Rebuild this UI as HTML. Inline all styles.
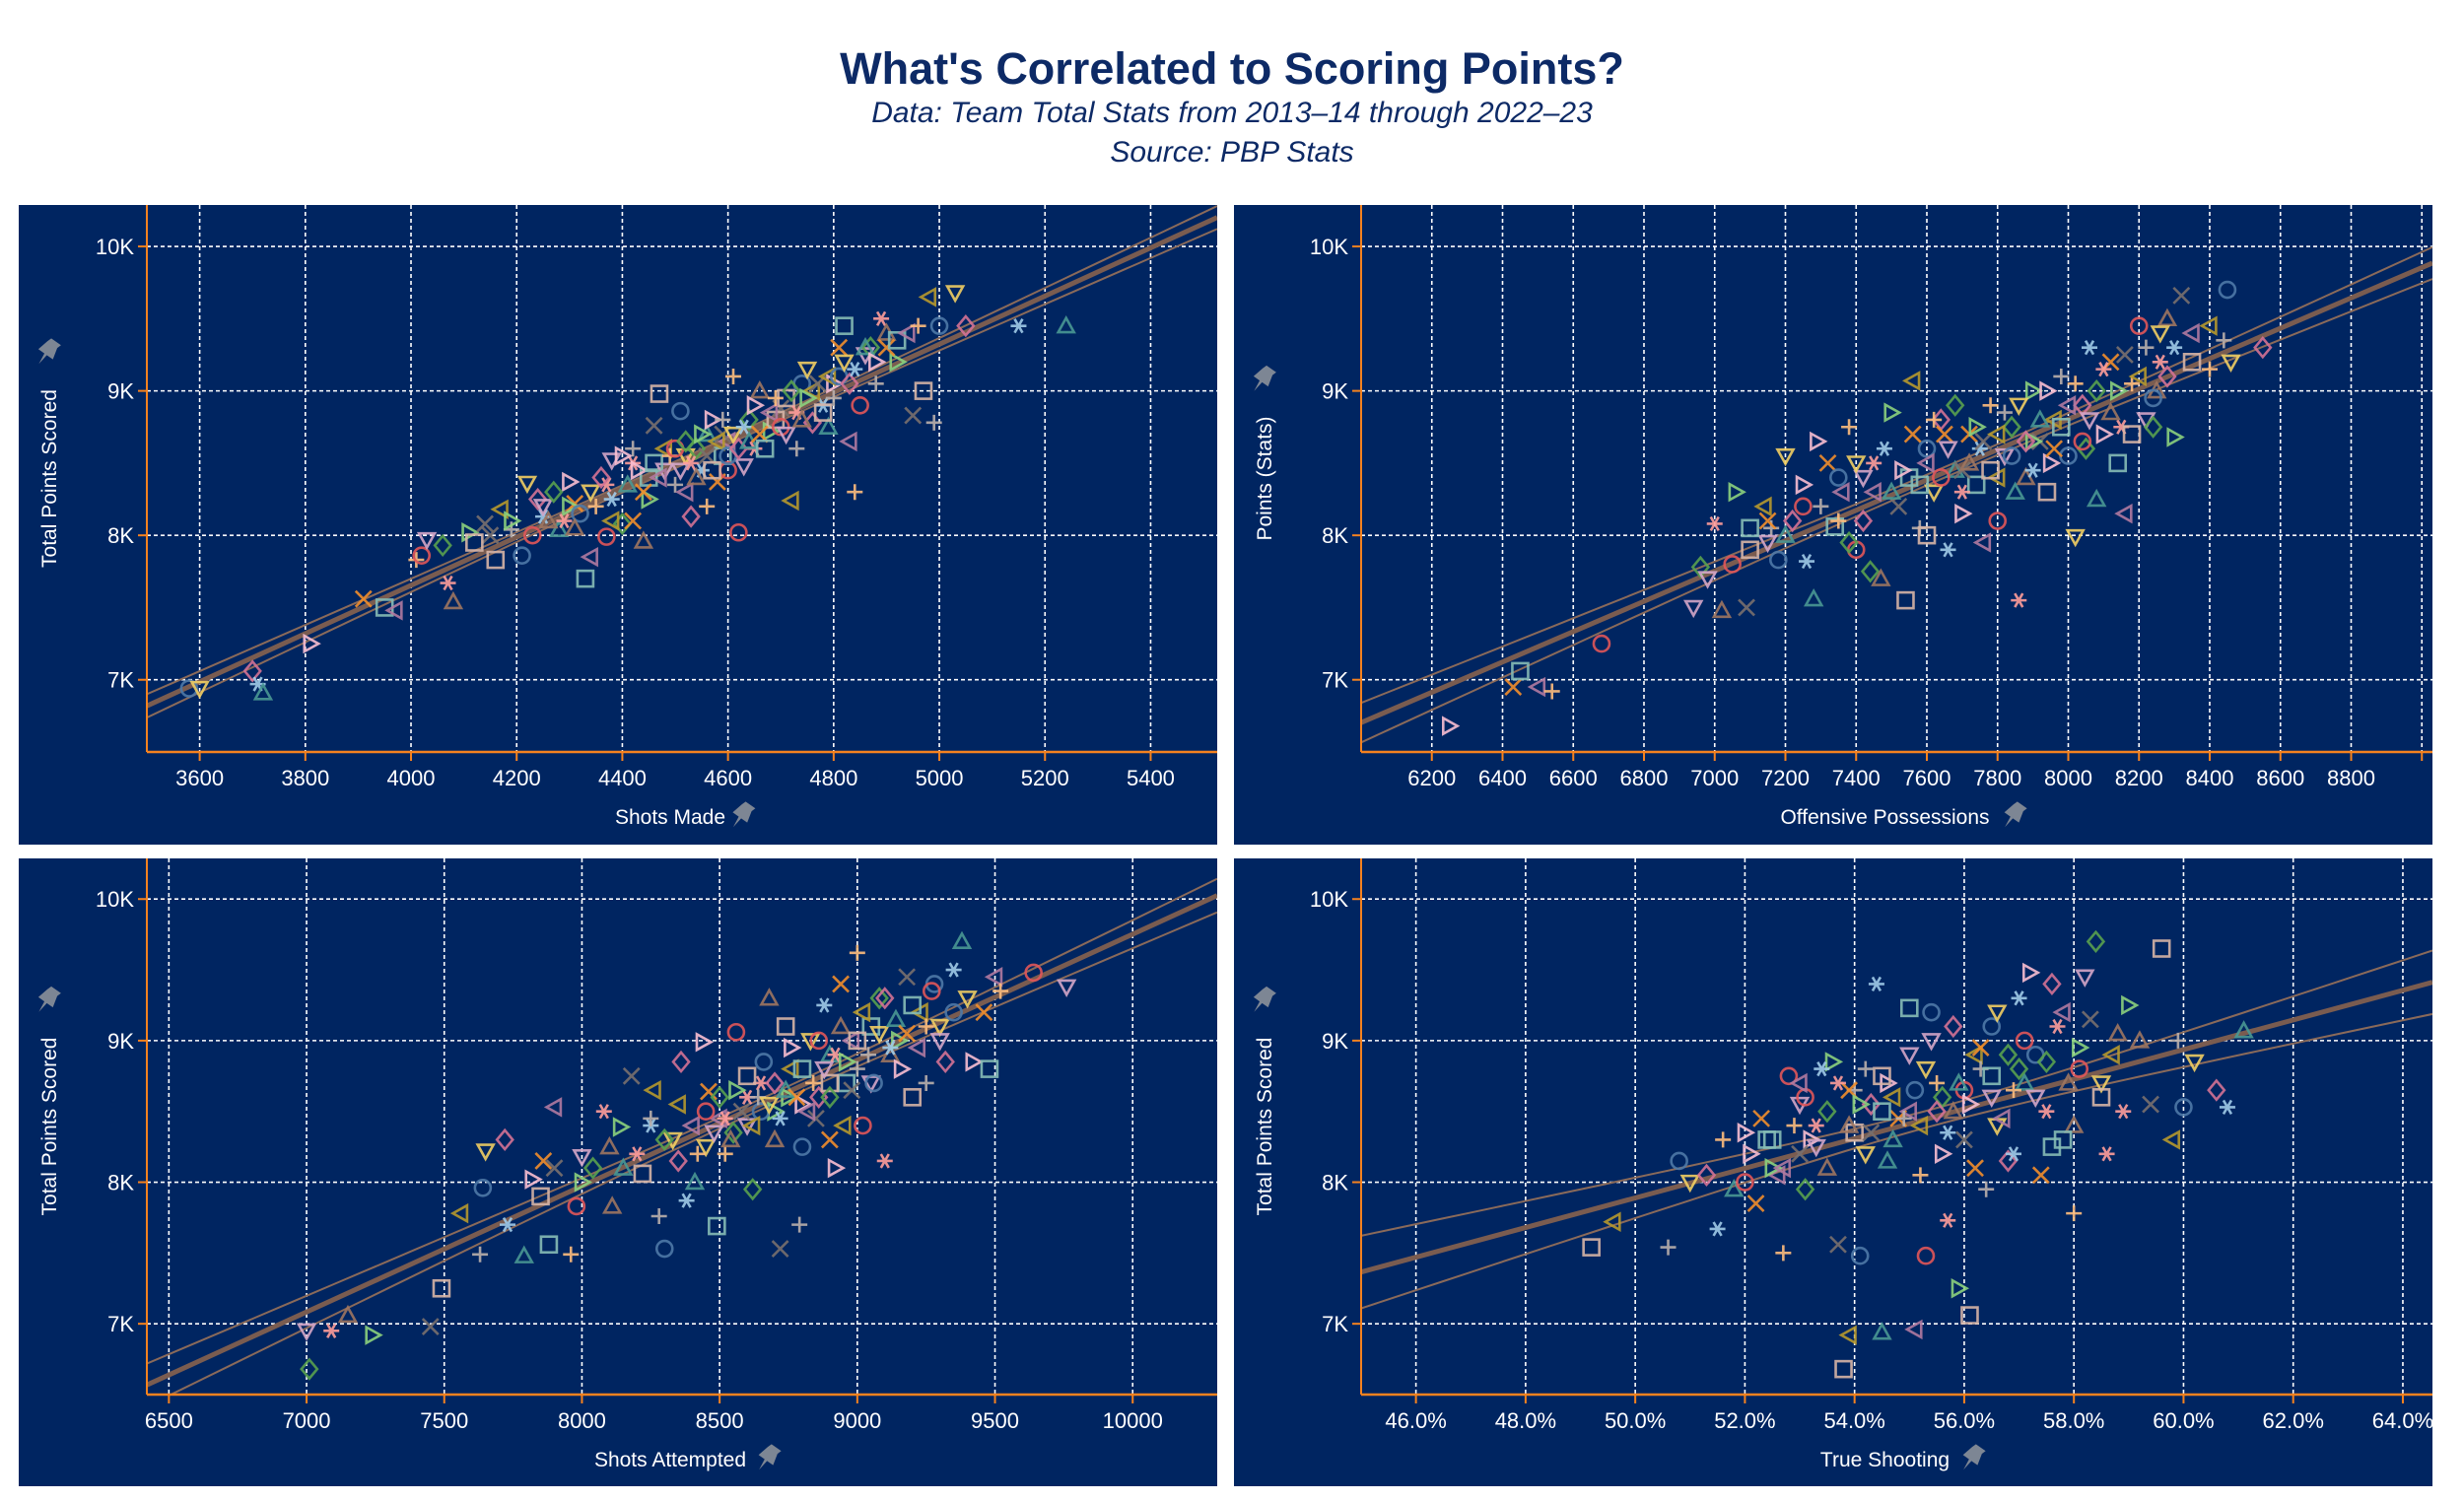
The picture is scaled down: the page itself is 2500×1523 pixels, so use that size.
<!DOCTYPE html>
<html><head><meta charset="utf-8">
<style>
html,body{margin:0;padding:0;background:#fff;width:2500px;height:1523px;overflow:hidden;font-family:"Liberation Sans",sans-serif;}
.t{position:absolute;left:0;width:2500px;text-align:center;color:#0d2a66;}
</style></head><body>
<div class="t" style="top:44px;font-size:45px;font-weight:bold;">What's Correlated to Scoring Points?</div>
<div class="t" style="top:98px;font-size:30px;font-style:italic;">Data: Team Total Stats from 2013–14 through 2022–23</div>
<div class="t" style="top:138px;font-size:30px;font-style:italic;">Source: PBP Stats</div>
<svg id="svg" width="2500" height="1523" style="position:absolute;left:0;top:0" xmlns="http://www.w3.org/2000/svg"></svg>
<script>
// ---- data ----
const p1x=[3580,3600,3700,3710,3720,3810,3910,3950,3970,4010,4020,4030,4060,4070,4080,4110,4140,4160,4170,4190,4210,4220,4240,4250,4280,4300,4310,4330,4340,4350,4370,4380,4400,4420,4440,4450,4460,4470,4480,4500,4510,4520,4530,4550,4560,4570,4580,4590,4600,4610,4620,4630,4640,4650,4660,4680,4700,4710,4720,4730,4740,4750,4760,4780,4790,4800,4810,4820,4830,4840,4850,4860,4870,4890,4900,4920,4950,4970,4980,4990,5000,5030,5050,5150,5240,4400,4420,4450,4520,4560,4600,4480,4540,4370,4260,4300,4590,4690,4760,4880,
4320,4340,4360,4380,4410,4430,4440,4460,4470,4490,4500,4510,4520,4530,4540,4550,4560,4570,4580,4590,4600,4610,4620,4630,4640,4650,4660,4670,4680,4690,4700,4710,4720,4730,4740,4750,4770,4780,4790,4800,4810,4820,4830,4840,4860,4880,4900,4920,4940,4960,4230,4250,4270,4290,4310,4190,4150,4120,4380,4420];
const p1y=[6940,6940,7060,6970,6910,7250,7560,7500,7480,7830,7860,7970,7930,7670,7540,8020,8080,7830,8180,8040,7860,8360,8250,8130,8040,8370,8220,7700,7850,8200,7990,8520,8080,8500,7960,8250,8760,8980,8600,8350,8860,8550,8130,8450,8700,8800,8370,8550,8650,9100,8020,8480,8800,8600,9000,8720,8880,8950,8240,8600,9050,9150,8780,8900,8750,9050,9300,9450,8650,8300,8900,9250,9300,9500,9400,9200,8830,9000,9650,8780,9450,9680,9450,9450,9450,8550,8100,8400,8300,8200,8450,8450,8600,8350,8100,8200,8700,8800,9000,9050,
8150,8300,8400,8250,8350,8450,8300,8500,8400,8550,8600,8450,8650,8500,8400,8700,8550,8450,8650,8800,8550,8700,8600,8750,8650,8900,8700,8600,8850,8950,8750,8700,9000,8850,8800,8950,9050,8850,9100,8950,9100,9200,9050,9150,9300,9200,9300,9350,9400,9450,8000,8200,8300,8100,8050,8100,8000,7950,8100,8600];
const p2x=[6250,6430,6450,6500,6540,6680,6940,6960,7000,7020,7060,7090,7100,7140,7160,7180,7200,7220,7260,7280,7290,7320,7340,7360,7380,7400,7420,7440,7450,7470,7500,7520,7540,7560,7580,7600,7620,7640,7660,7680,7700,7720,7740,7760,7780,7800,7820,7840,7860,7880,7900,7920,7940,7960,7980,8000,8020,8040,8060,8080,8100,8120,8140,8160,8180,8200,8220,8240,8260,8280,8300,8320,8350,8400,8440,8450,8460,8550,7750,7850,7950,7650,7550,7450,7350,7250,7150,8050,8150,8250,7900,7700,7600,7800,
7300,7350,7400,7420,7480,7500,7530,7560,7580,7600,7620,7640,7660,7680,7700,7720,7740,7760,7780,7800,7820,7840,7860,7880,7900,7920,7940,7960,7980,8000,8020,8040,8060,8080,8100,8120,8140,8160,8180,8200,8220,8240,8260,8280,8300,7200,7250,7150,7100,8350,8400,7050,6980,7380];
const p2y=[6680,6950,7060,6950,6920,7250,7500,7780,8080,7480,8300,7500,7900,8200,8050,7830,8550,8100,7820,7560,8650,8500,8060,8300,8750,7900,8400,7750,8500,7700,8850,8200,7550,9070,8050,8600,8300,8800,7900,8450,8150,8700,8350,7950,8900,8100,8550,8750,7550,8400,9000,8650,8300,8800,9100,8550,7990,8900,9300,8250,8700,9200,8500,8150,9050,9450,8800,8750,9200,9500,8680,9660,9200,9450,9350,9700,9200,9300,8600,8300,8500,8700,8400,8300,8100,8200,7950,8600,8750,9000,8650,8450,8000,8400,
8200,8400,8500,8100,8600,8300,8450,8700,8350,8500,8800,8400,8600,8900,8300,8500,8750,8650,8450,8700,8850,8550,8900,8650,8450,8800,9000,8600,8750,8900,9050,8650,8800,9000,9150,8850,9000,9250,8700,9100,9300,8950,9400,9100,9300,8000,8350,8100,8050,9400,9150,7800,7700,7950];
const p3x=[7000,7010,7090,7150,7240,7450,7490,7560,7630,7640,7650,7720,7730,7790,7820,7860,7880,7900,7960,7980,8000,8040,8080,8110,8140,8180,8220,8260,8280,8300,8330,8360,8380,8410,8440,8460,8490,8500,8520,8560,8600,8620,8650,8680,8700,8720,8740,8760,8790,8800,8830,8860,8880,8900,8920,8940,8960,8980,9000,9020,9050,9080,9100,9120,9150,9180,9200,9230,9250,9280,9300,9320,9350,9380,9420,9460,9480,9500,9520,9640,9760,8550,8600,8700,8750,8850,8900,8950,9000,8650,8450,8350,8250,8150,8800,8900,9050,
8400,8420,8450,8480,8500,8520,8540,8560,8580,8600,8620,8640,8660,8680,8700,8720,8740,8760,8780,8800,8820,8840,8860,8880,8900,8920,8940,8960,8980,9000,9020,9040,9060,9080,9100,9120,9140,9160,9180,9200,9220,9250,9270,9300,8300,8200,8100,8000,7900,7850,8350,8250,9350,9400];
const p3y=[6950,6680,6950,7060,6920,6980,7250,7780,7490,7960,8220,8300,7700,7480,8020,8150,7560,8530,7490,7830,8180,8100,8500,7830,8390,8750,8060,8650,7760,7530,8300,8850,7870,8000,8990,8640,7690,8450,8200,9060,8400,7950,8700,9300,8500,7530,9100,8800,7700,8250,9000,8600,9250,8900,8100,9400,8700,9000,9620,8400,8700,9300,8150,8900,9000,9450,8600,9200,8700,9400,9100,8850,9500,9700,8850,9200,8800,9450,9350,9480,9380,8350,8600,8300,8600,8450,8700,8400,8800,8500,8250,8150,8400,8100,8550,8300,9100,
8400,8200,8500,8350,8600,8450,8300,8650,8500,8750,8400,8600,8850,8550,8700,8450,8650,8950,8600,8800,8500,8700,9000,8800,8600,8900,9100,8850,8650,9000,9200,8900,8700,9050,9300,8950,9150,8800,9050,9250,8950,9100,9350,9000,8300,8200,8250,8000,8100,7900,8550,8450,9200,9300];
const p4x=[49.2,49.6,50.6,50.8,51.0,51.3,51.5,51.8,52.0,52.2,52.4,52.6,52.7,52.8,53.0,53.1,53.3,53.5,53.6,53.7,53.8,53.9,54.0,54.1,54.2,54.3,54.4,54.5,54.6,54.8,55.0,55.1,55.2,55.3,55.4,55.6,55.7,55.8,55.9,56.0,56.1,56.2,56.4,56.5,56.6,56.8,57.0,57.1,57.2,57.4,57.6,57.8,58.0,58.1,58.2,58.4,58.6,58.8,59.0,59.4,59.6,59.8,59.9,60.0,60.2,60.6,60.8,61.1,53.2,53.9,54.5,55.0,55.5,56.0,56.5,57.0,57.5,58.0,52.5,53.0,54.0,55.2,56.3,57.3,58.5,55.8,56.9,54.7,
52.1,52.3,52.5,52.7,52.9,53.1,53.3,53.5,53.7,53.9,54.1,54.3,54.5,54.7,54.9,55.1,55.3,55.5,55.7,55.9,56.1,56.3,56.5,56.7,56.9,57.1,57.3,57.5,57.7,57.9,58.1,58.3,58.5,58.7,54.2,55.4,56.6,57.6,53.4,54.6,55.6,56.2,57.8,53.0,51.6,52.0,55.0,56.8,58.9,59.2];
const p4y=[7540,7720,7540,8150,8000,8050,7670,7950,8350,7850,8300,8050,7500,8750,8550,7950,8400,8100,8850,7560,6680,6920,8650,7480,8200,8550,9400,6940,8700,8450,9230,6960,8050,7480,9000,8600,7730,8500,7250,8300,7060,8900,7950,9100,8400,8150,9300,8700,9480,8050,8250,9200,7780,8800,9450,9700,8200,9050,9250,8550,9650,8300,9000,8530,8850,8650,8530,9070,8300,8650,8500,8500,8700,8650,8600,8800,8500,8400,8100,8200,8350,8400,8800,8900,8700,9100,8200,8300,
8200,8450,8300,8100,8400,8600,8250,8500,8700,8400,8550,8350,8750,8600,8450,8650,8800,8500,8350,8700,8550,8950,8750,8450,8650,9000,8600,8850,9100,8700,8950,9150,8600,8900,8800,9200,9200,9400,8800,8150,8200,8100,8300,8700,8300,8000,8900,8900,8500,9000];
const yTicks=[7000,8000,9000,10000];
const yTickLabels=["7K","8K","9K","10K"];
const p1Ticks=[3600,3800,4000,4200,4400,4600,4800,5000,5200,5400];
const p2Ticks=[6200,6400,6600,6800,7000,7200,7400,7600,7800,8000,8200,8400,8600,8800,9000];
const p3Ticks=[6500,7000,7500,8000,8500,9000,9500,10000];
const p4Ticks=[46,48,50,52,54,56,58,60,62,64];

const palette=["#4e79a7","#a0cbe8","#f28e2b","#ffbe7d","#59a14f","#8cd17d","#b6992d","#f1ce63","#499894","#86bcb6","#e15759","#ff9d9a","#79706e","#bab0ac","#d37295","#fabfd2","#b07aa1","#d4a6c8","#9d7660","#d7b5a6"];
const shapes=["circle","square","tri-up","tri-down","tri-left","tri-right","diamond","plus","cross","star"];
const NS="http://www.w3.org/2000/svg";
const svg=document.getElementById('svg');
function mk(tag,attrs,parent){const e=document.createElementNS(NS,tag);for(const k in attrs)e.setAttribute(k,attrs[k]);(parent||svg).appendChild(e);return e;}

function marker(g,cx,cy,i){
  const c=palette[(i*7)%20], s=shapes[(i*3)%10], r=8;
  let el;
  const st={fill:"none",stroke:c,"stroke-width":2.6,opacity:0.9};
  if(s==="circle"){el=mk('circle',Object.assign({cx,cy,r},st),g);}
  else if(s==="square"){el=mk('rect',Object.assign({x:cx-r,y:cy-r,width:2*r,height:2*r},st),g);}
  else{
    let d;
    if(s==="tri-up")d=`M${cx},${cy-r}L${cx+r},${cy+r*0.8}L${cx-r},${cy+r*0.8}Z`;
    else if(s==="tri-down")d=`M${cx},${cy+r}L${cx+r},${cy-r*0.8}L${cx-r},${cy-r*0.8}Z`;
    else if(s==="tri-left")d=`M${cx-r},${cy}L${cx+r*0.8},${cy-r}L${cx+r*0.8},${cy+r}Z`;
    else if(s==="tri-right")d=`M${cx+r},${cy}L${cx-r*0.8},${cy-r}L${cx-r*0.8},${cy+r}Z`;
    else if(s==="diamond")d=`M${cx},${cy-r*1.2}L${cx+r},${cy}L${cx},${cy+r*1.2}L${cx-r},${cy}Z`;
    else if(s==="plus")d=`M${cx-r},${cy}H${cx+r}M${cx},${cy-r}V${cy+r}`;
    else if(s==="cross")d=`M${cx-r},${cy-r}L${cx+r},${cy+r}M${cx+r},${cy-r}L${cx-r},${cy+r}`;
    else d=`M${cx-r},${cy}H${cx+r}M${cx-r*0.5},${cy-r*0.87}L${cx+r*0.5},${cy+r*0.87}M${cx+r*0.5},${cy-r*0.87}L${cx-r*0.5},${cy+r*0.87}`;
    el=mk('path',Object.assign({d},st),g);
  }
  
  
}

function pin(g,x,y,rot){
  const p=mk('path',{d:"M-3,-9 L5,-9 L4,-6 L6,2 L1,2 L0,10 L-1,2 L-6,2 L-4,-6 Z",fill:"#7d8694",transform:`translate(${x},${y}) rotate(${rot}) scale(1.5)`},g);
  
  
}

function panel(o){
  const g=mk('g',{});
  
  
  const bg=mk('rect',{x:o.px,y:o.py,width:o.pw,height:o.ph,fill:"#002561"},g);
  
  
  const L=o.l,R=o.px+o.pw,T=o.py,B=o.b;
  const sx=v=>L+(v-o.xd[0])/(o.xd[1]-o.xd[0])*(R-L);
  const sy=v=>B-(v-6500)/(10287-6500)*(B-T);
  o.xt.forEach((v,i)=>{const x=sx(v);if(x>R)return;
    const gl=mk('line',{x1:x,x2:x,y1:T,y2:B,stroke:"#fff","stroke-width":1.6,"stroke-dasharray":"4,3"},g);
    
    
    mk('line',{x1:x,x2:x,y1:B,y2:B+9,stroke:"#f5821f","stroke-width":2},g);
    if(x<R-25){const t=mk('text',{x:x,y:B+34,fill:"#fff","font-size":22,"text-anchor":"middle"},g);
      t.textContent=o.fmt(v);
      
      }
  });
  yTicks.forEach((v,i)=>{const y=sy(v);
    const gl=mk('line',{x1:L,x2:R,y1:y,y2:y,stroke:"#fff","stroke-width":1.6,"stroke-dasharray":"4,3"},g);
    
    
    mk('line',{x1:L-9,x2:L,y1:y,y2:y,stroke:"#f5821f","stroke-width":2},g);
    const t=mk('text',{x:L-13,y:y+8,fill:"#fff","font-size":22,"text-anchor":"end"},g);
    t.textContent=yTickLabels[i];
    
    
  });
  const n=o.x.length;let mx=0,my=0;o.x.forEach((v,i)=>{mx+=v;my+=o.y[i];});mx/=n;my/=n;
  let sxx=0,sxy=0;o.x.forEach((v,i)=>{sxx+=(v-mx)**2;sxy+=(v-mx)*(o.y[i]-my);});
  const b=sxy/sxx,a=my-b*mx;let sse=0;o.x.forEach((v,i)=>{sse+=(o.y[i]-a-b*v)**2;});
  const s=Math.sqrt(sse/(n-2));
  const clip=mk('clipPath',{id:'c'+o.name},g);mk('rect',{x:L,y:T,width:R-L,height:B-T},clip);
  const rg=mk('g',{"clip-path":`url(#c${o.name})`},g);
  let up="",lo="";const N=40;
  for(let k=0;k<=N;k++){const xv=o.xd[0]+(o.xd[1]-o.xd[0])*k/N;const yv=a+b*xv;
    const se=1.4*s*Math.sqrt(1/n+(xv-mx)**2/sxx);
    up+=(k?"L":"M")+sx(xv)+","+sy(yv+se);lo+=(k?"L":"M")+sx(xv)+","+sy(yv-se);}
  const rl=mk('line',{x1:sx(o.xd[0]),y1:sy(a+b*o.xd[0]),x2:sx(o.xd[1]),y2:sy(a+b*o.xd[1]),stroke:"#7a5c50","stroke-width":5},rg);
  
  
  const u=mk('path',{d:up,fill:"none",stroke:"#8a6a5a","stroke-width":2},rg);
  
  
  const lw=mk('path',{d:lo,fill:"none",stroke:"#8a6a5a","stroke-width":2},rg);
  
  
  const pg=mk('g',{"clip-path":`url(#c${o.name})`},g);
  o.x.forEach((v,i)=>marker(pg,sx(v),sy(o.y[i]),i+o.off));
  mk('line',{x1:L,x2:L,y1:T,y2:B,stroke:"#f5821f","stroke-width":2},g);
  mk('line',{x1:L,x2:R,y1:B,y2:B,stroke:"#f5821f","stroke-width":2.5},g);
  const xt=mk('text',{x:(L+R)/2-12,y:B+73,fill:"#fff","font-size":21,"text-anchor":"middle"},g);
  xt.textContent=o.xl;
  
  
  const xw=o.xl.length*10.5;
  pin(g,(L+R)/2-12+xw/2+20,B+64,35);
  const cy=(T+B)/2;
  const yt=mk('text',{x:0,y:0,fill:"#fff","font-size":21,"text-anchor":"middle",transform:`translate(${o.px+38},${cy}) rotate(-90)`},g);
  yt.textContent=o.yl;
  
  
  pin(g,o.px+29,cy-o.yl.length*5.5-24,35);
}
panel({name:'panel-shots-made',px:19,py:208,pw:1216,ph:649,l:149,b:763,xd:[3500,5526],x:p1x,y:p1y,xt:p1Ticks,fmt:v=>String(v),xl:"Shots Made",yl:"Total Points Scored",off:0});
panel({name:'panel-offensive-possessions',px:1252,py:208,pw:1216,ph:649,l:1381,b:763,xd:[6000,9030],x:p2x,y:p2y,xt:p2Ticks,fmt:v=>String(v),xl:"Offensive Possessions",yl:"Points (Stats)",off:5});
panel({name:'panel-shots-attempted',px:19,py:871,pw:1216,ph:637,l:149,b:1415,xd:[6420,10307],x:p3x,y:p3y,xt:p3Ticks,fmt:v=>String(v),xl:"Shots Attempted",yl:"Total Points Scored",off:11});
panel({name:'panel-true-shooting',px:1252,py:871,pw:1216,ph:637,l:1381,b:1415,xd:[45,64.54],x:p4x,y:p4y,xt:p4Ticks,fmt:v=>v.toFixed(1)+"%",xl:"True Shooting",yl:"Total Points Scored",off:17});
</script>
</body></html>
